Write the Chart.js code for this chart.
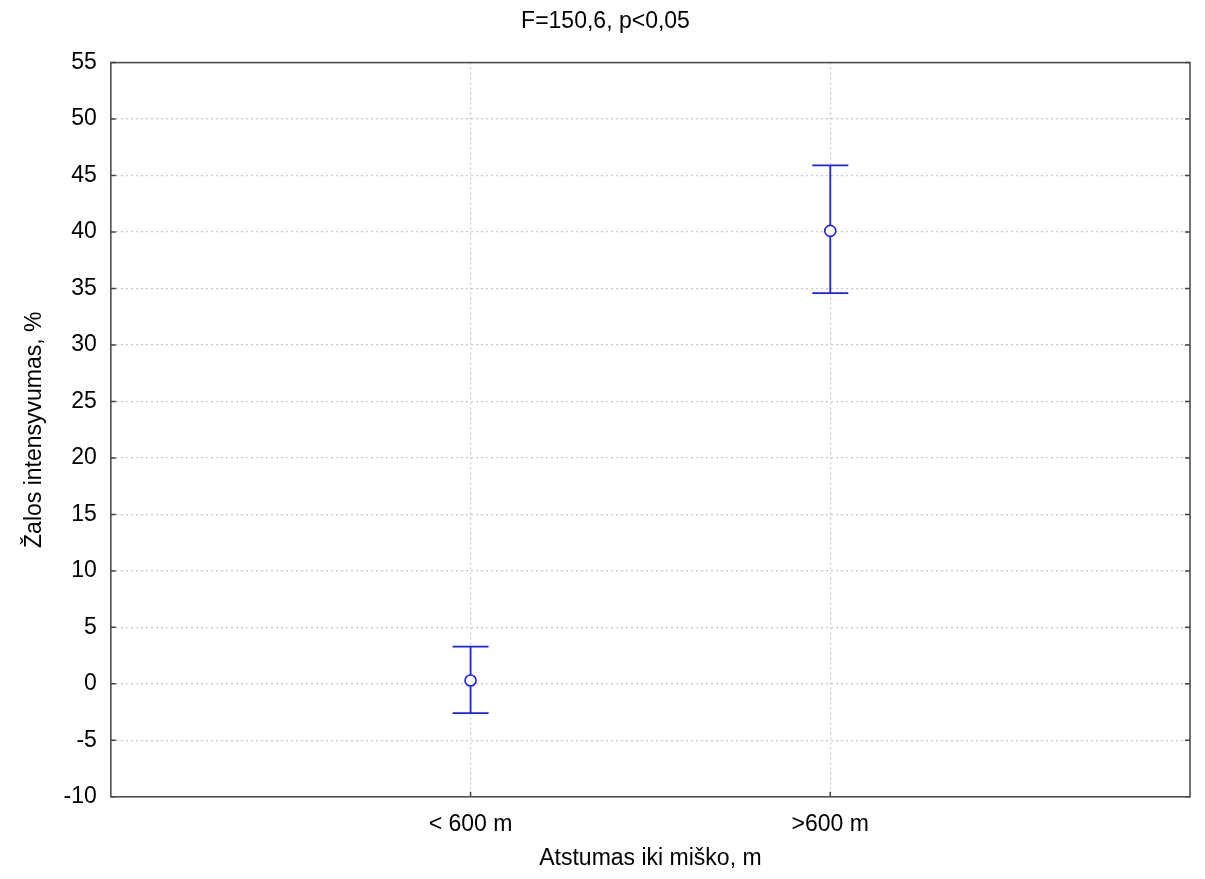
<!DOCTYPE html>
<html>
<head>
<meta charset="utf-8">
<script src="https://cdn.jsdelivr.net/npm/chart.js@4"></script>
<style>
  html, body { margin: 0; padding: 0; background: #fff; }
  #wrap { width: 1205px; height: 879px; }
</style>
</head>
<body>
<div id="wrap"><canvas id="chart"></canvas></div>
<script>
const categories = ['< 600 m', '>600 m'];
const means = [0.3, 40.1];
const lower = [-2.6, 34.6];
const upper = [3.3, 45.9];
const yTicks = [-10, -5, 0, 5, 10, 15, 20, 25, 30, 35, 40, 45, 50, 55];

const blue = 'rgb(32,32,230)';
const font = "'Liberation Sans', Arial, sans-serif";

// error bars, frame and inward ticks
const errorBars = {
    id: 'errorBars',
    beforeDatasetsDraw(chart) {
        const { ctx, chartArea: a, scales: { x, y } } = chart;
        ctx.save();
        // frame
        ctx.strokeStyle = '#444';
        ctx.lineWidth = 1.5;
        ctx.strokeRect(a.left, a.top, a.right - a.left, a.bottom - a.top);
        // inward ticks
        ctx.beginPath();
        yTicks.forEach(v => {
            const py = y.getPixelForValue(v);
            ctx.moveTo(a.left, py); ctx.lineTo(a.left + 5, py);
            ctx.moveTo(a.right, py); ctx.lineTo(a.right - 5, py);
        });
        categories.forEach((c, i) => {
            const px = x.getPixelForValue(i + 1);
            ctx.moveTo(px, a.bottom); ctx.lineTo(px, a.bottom - 5);
        });
        ctx.stroke();
        // error bars
        ctx.strokeStyle = blue;
        ctx.lineWidth = 1.8;
        means.forEach((m, i) => {
            const px = x.getPixelForValue(i + 1);
            const lo = y.getPixelForValue(lower[i]);
            const hi = y.getPixelForValue(upper[i]);
            ctx.beginPath();
            ctx.moveTo(px, lo); ctx.lineTo(px, hi);
            ctx.moveTo(px - 18, lo); ctx.lineTo(px + 18, lo);
            ctx.moveTo(px - 18, hi); ctx.lineTo(px + 18, hi);
            ctx.stroke();
        });
        ctx.restore();
    }
};

const ctx = document.getElementById('chart').getContext('2d');
new Chart(ctx, {
    type: 'scatter',
    data: {
        datasets: [{
            data: means.map((m, i) => ({ x: i + 1, y: m })),
            pointRadius: 5.5,
            pointBackgroundColor: '#fff',
            pointBorderColor: blue,
            pointBorderWidth: 1.6,
            showLine: false
        }]
    },
    options: {
        responsive: true,
        maintainAspectRatio: false,
        animation: false,
        layout: { padding: { left: 21, right: 15, top: 2, bottom: 7 } },
        plugins: {
            legend: { display: false },
            tooltip: { enabled: false },
            title: {
                display: true,
                text: 'F=150,6, p<0,05',
                color: '#000',
                font: { family: font, size: 23, weight: 'normal' },
                padding: { top: 6, bottom: 27 }
            }
        },
        scales: {
            x: {
                type: 'linear',
                min: 0,
                max: 3,
                afterBuildTicks: s => { s.ticks = [0, 1, 2, 3].map(v => ({ value: v })); },
                ticks: {
                    color: '#000',
                    font: { family: font, size: 23 },
                    padding: 14,
                    maxRotation: 0,
                    callback: v => categories[v - 1] || ''
                },
                grid: {
                    drawTicks: false,
                    color: c => (c.tick && (c.tick.value === 1 || c.tick.value === 2)) ? '#c8c8c8' : 'rgba(0,0,0,0)',
                    lineWidth: 1.2
                },
                border: { display: false, dash: [2, 3] },
                title: {
                    display: true,
                    text: 'Atstumas iki miško, m',
                    color: '#000',
                    font: { family: font, size: 23 },
                    padding: { top: -8, bottom: 0 }
                }
            },
            y: {
                min: -10,
                max: 55,
                afterBuildTicks: s => { s.ticks = yTicks.map(v => ({ value: v })); },
                ticks: {
                    color: '#000',
                    font: { family: font, size: 23 },
                    padding: 14
                },
                grid: {
                    drawTicks: false,
                    color: c => (c.tick && (c.tick.value === -10 || c.tick.value === 55)) ? 'rgba(0,0,0,0)' : '#c8c8c8',
                    lineWidth: 1.2
                },
                border: { display: false, dash: [2, 3] },
                title: {
                    display: true,
                    text: 'Žalos intensyvumas, %',
                    color: '#000',
                    font: { family: font, size: 23 },
                    padding: { top: 0, bottom: 1 }
                }
            }
        }
    },
    plugins: [errorBars]
});
</script>
</body>
</html>
